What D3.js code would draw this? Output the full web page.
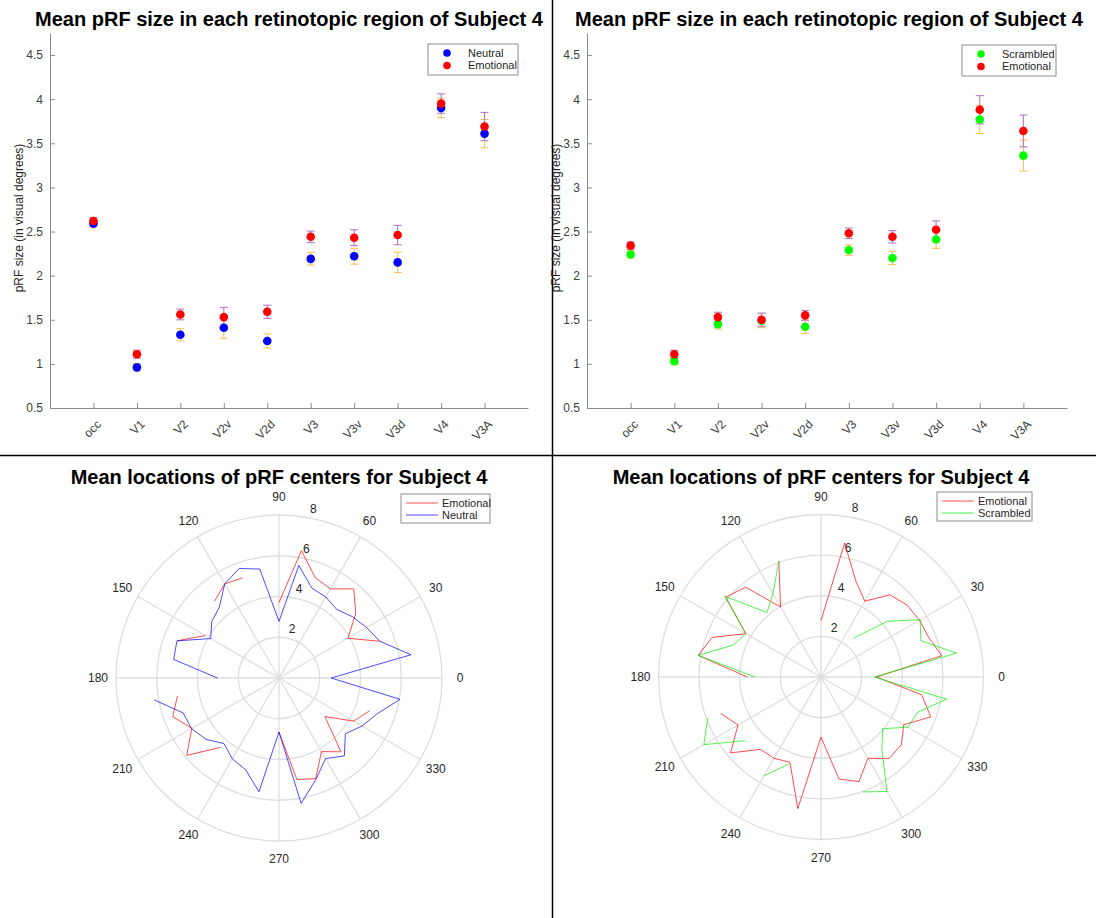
<!DOCTYPE html>
<html>
<head>
<meta charset="utf-8">
<script src="https://cdn.jsdelivr.net/npm/d3@7"></script>
<style>
  body { margin: 0; background: #fff; }
  text { font-family: "Liberation Sans", Arial, Helvetica, sans-serif; }
</style>
</head>
<body>
<script>
// ---- data: pRF size per region ----
var regions = ["occ", "V1", "V2", "V2v", "V2d", "V3", "V3v", "V3d", "V4", "V3A"];
var yTicks = [0.5, 1, 1.5, 2, 2.5, 3, 3.5, 4, 4.5];

// left panel: neutral vs emotional
var neutralSize = [2.59, 0.96, 1.33, 1.41, 1.26, 2.19, 2.22, 2.15, 3.90, 3.61];
var neutralErr = [0.03, 0.04, 0.07, 0.12, 0.08, 0.07, 0.09, 0.115, 0.11, 0.16];
var emotionalSizeA = [2.62, 1.11, 1.56, 1.53, 1.59, 2.44, 2.43, 2.46, 3.95, 3.69];
var emotionalErrA = [0.04, 0.045, 0.06, 0.11, 0.075, 0.065, 0.09, 0.11, 0.11, 0.16];

// right panel: scrambled vs emotional
var scrambledSize = [2.24, 1.03, 1.45, 1.49, 1.42, 2.29, 2.20, 2.41, 3.77, 3.36];
var scrambledErr = [0.04, 0.04, 0.055, 0.08, 0.075, 0.06, 0.075, 0.1, 0.16, 0.175];
var emotionalSizeB = [2.34, 1.11, 1.53, 1.50, 1.55, 2.48, 2.44, 2.52, 3.88, 3.64];
var emotionalErrB = [0.04, 0.045, 0.055, 0.075, 0.055, 0.06, 0.07, 0.1, 0.16, 0.18];

// ---- data: mean pRF center eccentricity per polar-angle bin ----
var polarAngles = [190, 200, 210, 220, 230, 240, 250, 260, 270, 280, 290, 300, 310, 320, 330, 340, 350, 360,
                   10, 20, 30, 40, 50, 60, 70, 80, 90, 100, 110, 120, 130, 140, 150, 160, 170, 180];
var rTicks = [2, 4, 6, 8];
var thetaTicks = [0, 30, 60, 90, 120, 150, 180, 210, 240, 270, 300, 330];

var neutralRho = [6.21, 5.01, 4.96, 4.68, 4.20, 4.58, 4.79, 5.67, 2.65, 6.25, 5.30, 4.57, 4.99, 4.25, 4.71, 5.13, 6.03, 2.56,
                  6.58, 5.27, 4.96, 4.69, 4.40, 4.59, 4.70, 5.61, 2.78, 5.43, 5.72, 5.33, 4.55, 4.31, 3.87, 5.33, 5.25, 3.02];
var emotionalRhoA = [5.06, 5.55, 4.94, 5.91, 4.44, null, null, null, 2.65, 5.06, 5.26, 4.17, 4.73, 2.94, 4.23, 4.72, null, null,
                     null, 5.27, 3.90, 4.92, 5.71, 5.05, 5.23, 6.34, 3.71, null, 5.23, 5.33, 4.92, null, 4.17, 5.33, null, null];
var emotionalRhoB = [null, 5.25, 4.72, 5.81, 4.65, 4.62, 4.47, 6.58, 2.96, 5.10, 5.48, 4.62, 5.23, 5.17, 4.70, 5.75, 5.03, 2.72,
                     6.04, 5.65, 5.60, 5.52, 5.28, 4.31, 5.02, 6.70, 2.78, null, 6.07, 3.98, 5.77, 6.12, 4.27, 5.70, 6.14, 3.63];
var scrambledRho = [null, 5.94, 6.66, 4.88, null, 5.61, 4.55, null, null, null, 6.02, 6.51, 4.66, 3.96, 4.94, 5.07, 6.28, 2.62,
                    6.78, 5.23, 5.64, 4.27, 2.50, null, null, null, null, null, 6.07, 4.73, 4.14, 6.20, 4.27, 4.60, 6.14, 3.25];

var W = 1096, H = 918;
var axisGrey = "#8c8c8c", labelGrey = "#404040";

var svg = d3.select("body").append("svg")
    .attr("width", W)
    .attr("height", H)
    .style("background", "#fff");

//panel dividers
svg.append("line").attr("x1", 552.5).attr("x2", 552.5).attr("y1", 0).attr("y2", H)
    .attr("stroke", "#000").attr("stroke-width", 1.5);
svg.append("line").attr("x1", 0).attr("x2", W).attr("y1", 455.5).attr("y2", 455.5)
    .attr("stroke", "#000").attr("stroke-width", 1.5);

//scatter with error bars
function drawSizes(box, first, second, legend) {
    var g = svg.append("g");

    var x = d3.scaleLinear().domain([0, 11]).range([box.left, box.right]);
    var y = d3.scaleLinear().domain([0.5, 4.75]).range([box.bottom, box.top]);

    g.append("text")
        .attr("x", box.titleX).attr("y", 26)
        .attr("text-anchor", "middle")
        .style("font-size", "20px").style("font-weight", "bold")
        .text("Mean pRF size in each retinotopic region of Subject 4");

    var yAxis = g.append("g")
        .attr("transform", "translate(" + box.left + ",0)")
        .call(d3.axisLeft(y).tickValues(yTicks).tickSizeInner(-5).tickSizeOuter(0).tickPadding(7)
            .tickFormat(function (d) { return String(d); }));

    var xAxis = g.append("g")
        .attr("transform", "translate(0," + box.bottom + ")")
        .call(d3.axisBottom(x).tickValues(d3.range(1, 11)).tickSizeInner(-5).tickSizeOuter(0)
            .tickFormat(function (d) { return regions[d - 1]; }));

    [yAxis, xAxis].forEach(function (a) {
        a.select(".domain").attr("stroke", axisGrey);
        a.selectAll(".tick line").attr("stroke", axisGrey);
        a.selectAll(".tick text").attr("fill", labelGrey).style("font-size", "12px")
            .style("font-family", '"Liberation Sans", Arial, sans-serif');
    });

    xAxis.selectAll(".tick text")
        .attr("y", 0).attr("dy", "0.35em")
        .attr("transform", "translate(5,14) rotate(-45)")
        .style("text-anchor", "end");

    g.append("text")
        .attr("transform", "translate(" + (box.left - 27) + ",218) rotate(-90)")
        .attr("text-anchor", "middle")
        .attr("fill", "#262626")
        .style("font-size", "12px")
        .text("pRF size (in visual degrees)");

    //error bars first, then the dots on top
    [first, second].forEach(function (s) {
        var bars = g.selectAll(null)
            .data(s.values)
            .enter()
            .append("g")
            .attr("stroke", s.bar)
            .attr("stroke-width", 1.1);
        bars.append("line")
            .attr("x1", function (d, i) { return x(i + 1); })
            .attr("x2", function (d, i) { return x(i + 1); })
            .attr("y1", function (d, i) { return y(d - s.errors[i]); })
            .attr("y2", function (d, i) { return y(d + s.errors[i]); });
        [-1, 1].forEach(function (sign) {
            bars.append("line")
                .attr("x1", function (d, i) { return x(i + 1) - 4; })
                .attr("x2", function (d, i) { return x(i + 1) + 4; })
                .attr("y1", function (d, i) { return y(d + sign * s.errors[i]); })
                .attr("y2", function (d, i) { return y(d + sign * s.errors[i]); });
        });
    });

    [first, second].forEach(function (s) {
        g.selectAll(null)
            .data(s.values)
            .enter()
            .append("circle")
            .attr("cx", function (d, i) { return x(i + 1); })
            .attr("cy", function (d) { return y(d); })
            .attr("r", 4.3)
            .attr("fill", s.dot);
    });

    //legend
    var lg = g.append("g");
    lg.append("rect")
        .attr("x", legend.x).attr("y", legend.y)
        .attr("width", legend.w).attr("height", 31)
        .attr("fill", "#fff").attr("stroke", "#8c8c8c");
    [first, second].forEach(function (s, i) {
        lg.append("circle")
            .attr("cx", legend.x + 19).attr("cy", legend.y + 9 + i * 12.5)
            .attr("r", 3.8).attr("fill", s.dot);
        lg.append("text")
            .attr("x", legend.x + 40).attr("y", legend.y + 9 + i * 12.5)
            .attr("dy", "0.35em")
            .attr("fill", "#262626")
            .style("font-size", "11px")
            .text(s.name);
    });
}

//polar line plot
function drawPolar(c, series, legend) {
    var g = svg.append("g").attr("transform", "translate(" + c.cx + "," + c.cy + ")");
    var r = d3.scaleLinear().domain([0, 8]).range([0, c.R]);
    var rad = function (deg) { return deg * Math.PI / 180; };

    svg.append("text")
        .attr("x", c.cx).attr("y", 484)
        .attr("text-anchor", "middle")
        .style("font-size", "20px").style("font-weight", "bold")
        .text("Mean locations of pRF centers for Subject 4");

    g.selectAll(".ring")
        .data(rTicks)
        .enter()
        .append("circle")
        .attr("r", function (d) { return r(d); })
        .attr("fill", "none")
        .attr("stroke", "#dedede")
        .attr("stroke-width", 1.3);

    g.selectAll(".spoke")
        .data(thetaTicks)
        .enter()
        .append("line")
        .attr("x1", 0).attr("y1", 0)
        .attr("x2", function (d) { return r(8) * Math.cos(rad(d)); })
        .attr("y2", function (d) { return -r(8) * Math.sin(rad(d)); })
        .attr("stroke", "#dedede")
        .attr("stroke-width", 1.3);

    g.selectAll(".thetaLabel")
        .data(thetaTicks)
        .enter()
        .append("text")
        .attr("x", function (d) { return (c.R + 18) * Math.cos(rad(d)); })
        .attr("y", function (d) { return -(c.R + 18) * Math.sin(rad(d)); })
        .attr("text-anchor", "middle")
        .attr("dy", "0.35em")
        .attr("fill", "#262626")
        .style("font-size", "12px")
        .text(function (d) { return d; });

    g.selectAll(".rLabel")
        .data(rTicks)
        .enter()
        .append("text")
        .attr("x", function (d) { return r(d) * Math.cos(rad(80)) + 6; })
        .attr("y", function (d) { return -r(d) * Math.sin(rad(80)) - 9; })
        .attr("text-anchor", "middle")
        .attr("dy", "0.35em")
        .attr("fill", "#262626")
        .style("font-size", "12px")
        .text(function (d) { return d; });

    var line = d3.lineRadial()
        .defined(function (d) { return d.rho != null; })
        .angle(function (d) { return rad(90 - d.theta); })
        .radius(function (d) { return r(d.rho); });

    series.forEach(function (s) {
        var pts = polarAngles.map(function (t, i) { return { theta: t, rho: s.rho[i] }; });
        g.append("path")
            .attr("d", line(pts))
            .attr("fill", "none")
            .attr("stroke", s.color)
            .attr("stroke-opacity", 0.7)
            .attr("stroke-width", 1);
    });

    var lg = svg.append("g");
    lg.append("rect")
        .attr("x", legend.x).attr("y", legend.y)
        .attr("width", legend.w).attr("height", 29)
        .attr("fill", "#fff").attr("stroke", "#8c8c8c");
    series.forEach(function (s, i) {
        var yy = legend.y + 9 + i * 12;
        lg.append("line")
            .attr("x1", legend.x + 5).attr("x2", legend.x + 37)
            .attr("y1", yy).attr("y2", yy)
            .attr("stroke", s.color).attr("stroke-opacity", 0.7);
        lg.append("text")
            .attr("x", legend.x + 41).attr("y", yy)
            .attr("dy", "0.35em")
            .attr("fill", "#262626")
            .style("font-size", "11px")
            .text(s.name);
    });
}

var orange = "#f2c55c", purple = "#b07cc4";

drawSizes({ left: 50, right: 528, top: 33, bottom: 408, titleX: 289 },
    { name: "Neutral", values: neutralSize, errors: neutralErr, dot: "#0000ff", bar: orange },
    { name: "Emotional", values: emotionalSizeA, errors: emotionalErrA, dot: "#ff0000", bar: purple },
    { x: 428, y: 44, w: 90 });

drawSizes({ left: 587, right: 1067, top: 33, bottom: 408, titleX: 829 },
    { name: "Scrambled", values: scrambledSize, errors: scrambledErr, dot: "#00ff00", bar: orange },
    { name: "Emotional", values: emotionalSizeB, errors: emotionalErrB, dot: "#ff0000", bar: purple },
    { x: 962, y: 45, w: 94 });

drawPolar({ cx: 279, cy: 678, R: 163 },
    [{ name: "Emotional", rho: emotionalRhoA, color: "#ff0000" },
     { name: "Neutral", rho: neutralRho, color: "#0000ff" }],
    { x: 401, y: 494, w: 89 });

drawPolar({ cx: 821, cy: 677, R: 162.5 },
    [{ name: "Emotional", rho: emotionalRhoB, color: "#ff0000" },
     { name: "Scrambled", rho: scrambledRho, color: "#00ee00" }],
    { x: 937, y: 492, w: 95 });
</script>
</body>
</html>
